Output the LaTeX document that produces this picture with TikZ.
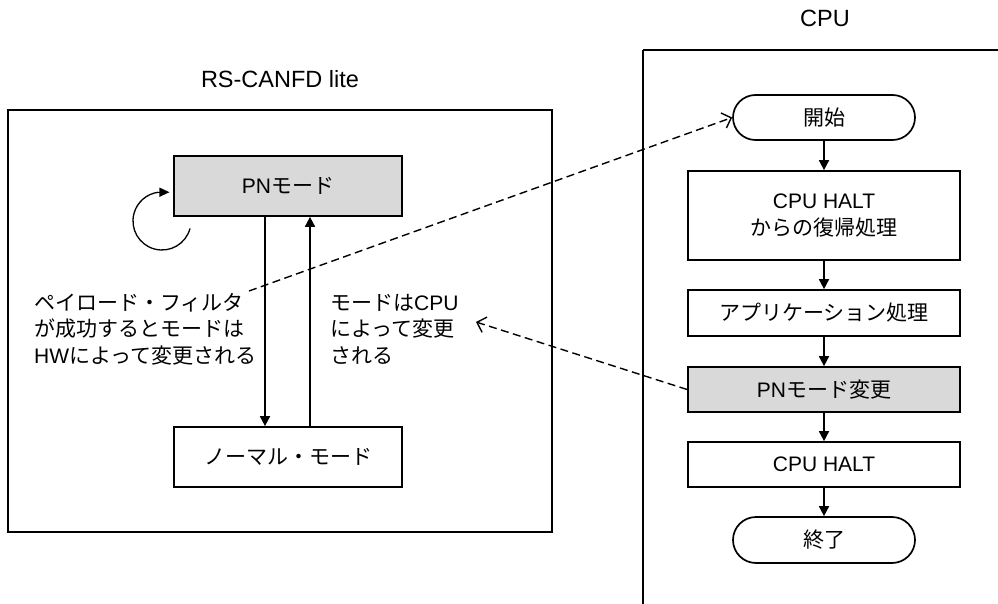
\documentclass[tikz,border=0pt]{standalone}
\usepackage{fontspec}
\setmainfont{Liberation Sans}
\newfontfamily\jp{Noto Sans CJK JP}
\usetikzlibrary{arrows.meta,shapes.misc}
\definecolor{boxgray}{HTML}{D9D9D9}
\tikzset{
  every node/.style={font=\fontsize{21pt}{26.5pt}\selectfont},
  title/.style={font=\fontsize{23.5pt}{28pt}\selectfont},
  frame/.style={draw, line width=1.7pt},
  box/.style={draw, line width=1.7pt, minimum width=228pt, minimum height=60pt, inner sep=0pt},
  fbox/.style={draw, line width=1.7pt, minimum width=272pt, inner sep=0pt, align=center},
  term/.style={draw, line width=1.7pt, rounded rectangle, minimum width=182pt, minimum height=45pt, inner sep=0pt},
  flow/.style={line width=1.7pt, -{Triangle[length=10pt,width=10pt]}},
  link/.style={line width=1.4pt, dash pattern=on 8pt off 4.5pt, -{Straight Barb[length=8pt,width=16pt]}},
  lbl/.style={align=left, inner sep=0pt, anchor=west},
  loopline/.style={line width=1.3pt},
}
\begin{document}
\begin{tikzpicture}[x=1pt,y=-1pt]
\useasboundingbox (0,0) rectangle (998,604);
% left block
\node[title] (ttl1) at (280,79) {RS-CANFD lite};
\draw[frame] (8,110) rectangle (552,532);
\node[box, fill=boxgray] (pn) at (288,186) {PN{\jp モード}};
\node[box] (nm) at (288,457) {{\jp ノーマル・モード}};
\coordinate (xdown) at (265,0);
\coordinate (xup) at (310,0);
\draw[flow] (pn.south -| xdown) -- (nm.north -| xdown);
\draw[flow] (nm.north -| xup) -- (pn.south -| xup);
\coordinate (loopstart) at (190,228.5);
\draw[loopline] (loopstart) arc[start angle=-15, end angle=-263, radius=29pt] coordinate (loopend);
\draw[loopline, -{Triangle[length=10pt,width=9pt]}] (loopend) -- ++(11,0);
\node[lbl] (hwtxt) at (34,329) {{\jp ペイロード・フィルタ}\\{\jp が成功するとモードは}\\HW{\jp によって変更される}};
\node[lbl] (cputxt) at (330,329) {{\jp モードは}CPU\\{\jp によって変更}\\{\jp される}};
% right block
\node[title] (ttl2) at (825,18) {CPU};
\draw[frame] (643,50) -- (1010,50);
\draw[frame] (643,50) -- (643,620);
\node[term] (start) at (824,117.5) {{\jp 開始}};
\node[fbox, minimum height=89pt] (ret) at (824,215.5) {CPU HALT\\{\jp からの復帰処理}};
\node[fbox, minimum height=46pt] (app) at (824,313) {{\jp アプリケーション処理}};
\node[fbox, minimum height=45pt, fill=boxgray] (chg) at (824,389.5) {PN{\jp モード変更}};
\node[fbox, minimum height=45pt] (halt) at (824,464.5) {CPU HALT};
\node[term, minimum height=46pt] (end) at (824,540) {{\jp 終了}};
\draw[flow] (start) -- (ret);
\draw[flow] (ret) -- (app);
\draw[flow] (app) -- (chg);
\draw[flow] (chg) -- (halt);
\draw[flow] (halt) -- (end);
% links
\coordinate (d1) at (249,291);
\coordinate (d2) at (476,322);
\draw[link] (d1) -- (start.west);
\draw[link] (chg.west) -- (d2);
\end{tikzpicture}
\end{document}
